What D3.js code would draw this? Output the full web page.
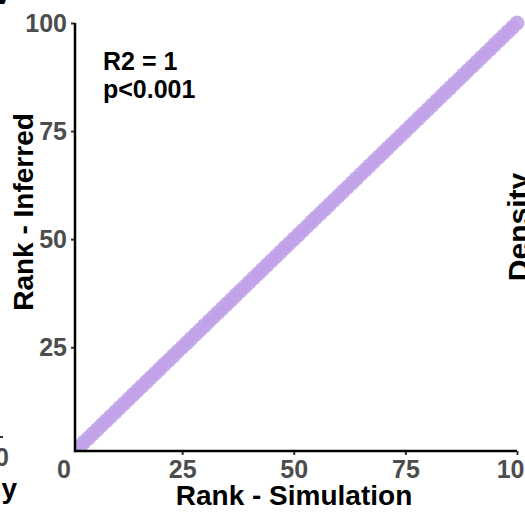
<!DOCTYPE html>
<html>
<head>
<meta charset="utf-8">
<script src="https://cdn.jsdelivr.net/npm/d3@7"></script>
<style>
  html, body { margin: 0; padding: 0; background: #fff; }
  svg { display: block; font-family: "Liberation Sans", Arial, sans-serif; }
</style>
</head>
<body>
<svg id="chart" width="525" height="512"></svg>
<script>
// ---- data ----
const simulationRank = [1,2,3,4,5,6,7,8,9,10,11,12,13,14,15,16,17,18,19,20,21,22,23,24,25,26,27,28,29,30,31,32,33,34,35,36,37,38,39,40,41,42,43,44,45,46,47,48,49,50,51,52,53,54,55,56,57,58,59,60,61,62,63,64,65,66,67,68,69,70,71,72,73,74,75,76,77,78,79,80,81,82,83,84,85,86,87,88,89,90,91,92,93,94,95,96,97,98,99,100];
const inferredRank = [1,2,3,4,5,6,7,8,9,10,11,12,13,14,15,16,17,18,19,20,21,22,23,24,25,26,27,28,29,30,31,32,33,34,35,36,37,38,39,40,41,42,43,44,45,46,47,48,49,50,51,52,53,54,55,56,57,58,59,60,61,62,63,64,65,66,67,68,69,70,71,72,73,74,75,76,77,78,79,80,81,82,83,84,85,86,87,88,89,90,91,92,93,94,95,96,97,98,99,100];
const xTicks = [0, 25, 50, 75, 100];
const yTicks = [25, 50, 75, 100];
const xTitle = "Rank - Simulation";
const yTitle = "Rank - Inferred";
const statLines = ["R2 = 1", "p<0.001"];

// ---- layout ----
const svg = d3.select("#chart");
const panel = { left: 75, right: 517, top: 23, bottom: 451 };
const x = d3.scaleLinear().domain([1, 100]).range([panel.left, panel.right]);
const y = d3.scaleLinear().domain([1, 100]).range([panel.bottom, panel.top]);
const tickGrey = "#4d4d4d";

svg.append("defs").append("clipPath").attr("id", "clip")
  .append("rect")
  .attr("x", panel.left).attr("y", panel.top - 20)
  .attr("width", panel.right - panel.left + 20)
  .attr("height", panel.bottom - panel.top + 20);

// points
const pts = simulationRank.map((s, i) => ({ s, r: inferredRank[i] }));
svg.append("g").attr("clip-path", "url(#clip)")
  .selectAll("circle").data(pts).join("circle")
  .attr("cx", d => x(d.s))
  .attr("cy", d => y(d.r))
  .attr("r", 7.5)
  .attr("fill", "#c0a2e8")
  .attr("fill-opacity", 0.88);

// x axis
const xAxis = svg.append("g")
  .attr("transform", `translate(0,${panel.bottom})`)
  .call(d3.axisBottom(x).tickValues(xTicks).tickSize(4).tickPadding(5).tickFormat(d3.format("d")));
xAxis.select(".domain").remove();
xAxis.selectAll(".tick line").attr("stroke", "#333").attr("stroke-width", 2)
  .attr("display", d => d === 0 ? "none" : null);
xAxis.selectAll(".tick text")
  .attr("fill", tickGrey).attr("font-size", 25).attr("font-weight", "bold")
  .attr("font-family", "Liberation Sans, Arial, sans-serif")
  .attr("dx", d => d === 0 ? -7 : 0);

// y axis
const yAxis = svg.append("g")
  .attr("transform", `translate(${panel.left},0)`)
  .call(d3.axisLeft(y).tickValues(yTicks).tickSize(4).tickPadding(4).tickFormat(d3.format("d")));
yAxis.select(".domain").remove();
yAxis.selectAll(".tick line").attr("stroke", "#333").attr("stroke-width", 2);
yAxis.selectAll(".tick text")
  .attr("fill", tickGrey).attr("font-size", 25).attr("font-weight", "bold")
  .attr("font-family", "Liberation Sans, Arial, sans-serif");

// axis lines
svg.append("line")
  .attr("x1", panel.left).attr("x2", panel.right)
  .attr("y1", panel.bottom).attr("y2", panel.bottom)
  .attr("stroke", "#000").attr("stroke-width", 2.5);
svg.append("line")
  .attr("x1", panel.left).attr("x2", panel.left)
  .attr("y1", panel.top).attr("y2", panel.bottom + 1.25)
  .attr("stroke", "#000").attr("stroke-width", 2.5);

// axis titles
svg.append("text")
  .attr("x", (panel.left + panel.right) / 2 - 2).attr("y", 505)
  .attr("text-anchor", "middle")
  .attr("font-size", 28).attr("font-weight", "bold").attr("fill", "#000")
  .text(xTitle);
svg.append("text")
  .attr("transform", "translate(33,212) rotate(-90)")
  .attr("text-anchor", "middle")
  .attr("font-size", 28).attr("font-weight", "bold").attr("fill", "#000")
  .text(yTitle);

// stat annotation
svg.append("text").attr("x", 103).attr("y", 70)
  .attr("font-size", 25).attr("font-weight", "bold").attr("fill", "#000")
  .text(statLines[0]);
svg.append("text").attr("x", 103).attr("y", 98)
  .attr("font-size", 25).attr("font-weight", "bold").attr("fill", "#000")
  .text(statLines[1]);

// fragments of neighbouring panels
svg.append("text")
  .attr("transform", "translate(529,227) rotate(-90)")
  .attr("text-anchor", "middle")
  .attr("font-size", 30).attr("font-weight", "bold").attr("fill", "#000")
  .text("Density");
svg.append("text").attr("x", 17).attr("y", 498).attr("text-anchor", "end")
  .attr("font-size", 28).attr("font-weight", "bold").attr("fill", "#000")
  .text("y");
svg.append("text").attr("x", 9).attr("y", 466).attr("text-anchor", "end")
  .attr("font-size", 25).attr("font-weight", "bold").attr("fill", tickGrey)
  .text("0");
svg.append("line").attr("x1", 0).attr("x2", 3).attr("y1", 437).attr("y2", 437)
  .attr("stroke", "#333").attr("stroke-width", 2);
svg.append("text").attr("x", 12).attr("y", 4).attr("text-anchor", "end")
  .attr("font-size", 30).attr("font-weight", "bold").attr("fill", "#000")
  .text("V");
</script>
</body>
</html>
